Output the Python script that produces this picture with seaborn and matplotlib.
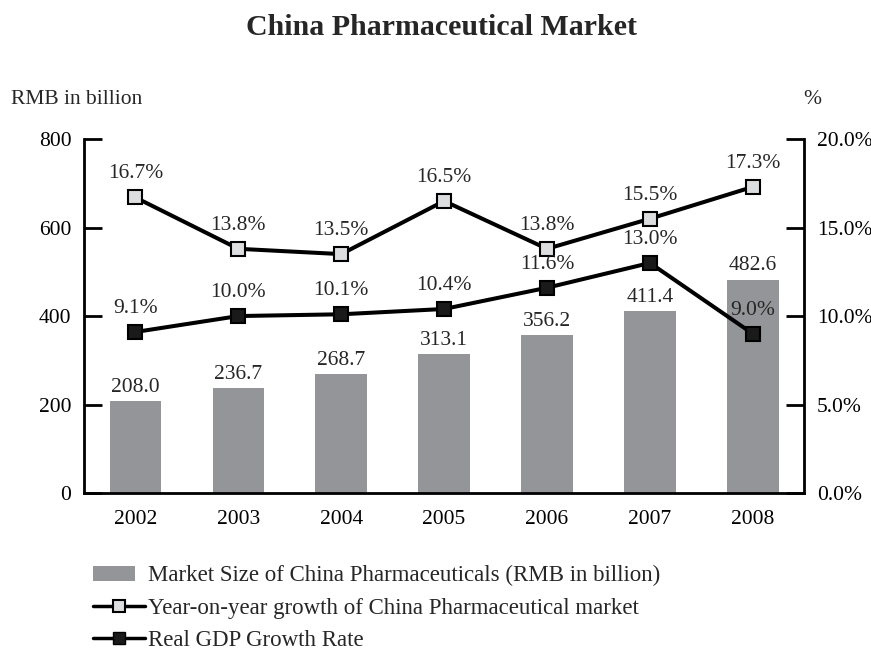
import numpy as np
import pandas as pd
import matplotlib
matplotlib.use("Agg")
import matplotlib.pyplot as plt
import seaborn as sns
from matplotlib.lines import Line2D
from matplotlib.patches import Patch, Rectangle
from matplotlib.legend_handler import HandlerPatch

years = ["2002", "2003", "2004", "2005", "2006", "2007", "2008"]
market_size = [208.0, 236.7, 268.7, 313.1, 356.2, 411.4, 482.6]
yoy_growth = [16.7, 13.8, 13.5, 16.5, 13.8, 15.5, 17.3]
gdp_growth = [9.1, 10.0, 10.1, 10.4, 11.6, 13.0, 9.0]

left_ticks = [0, 200, 400, 600, 800]
right_ticks = [0, 5, 10, 15, 20]

sns.set_theme(style="white")
plt.rcParams["font.family"] = ["Liberation Serif", "DejaVu Serif"]

BAR_COLOR = "#939598"
LIGHT_FILL = "#dcdddf"
DARK_FILL = "#1a1a1a"
FS = 15.5

df = pd.DataFrame({"year": years, "market": market_size,
                   "yoy": yoy_growth, "gdp": gdp_growth})
df["pos"] = np.arange(len(years))

fig = plt.figure(figsize=(8.71, 6.53), dpi=100)
ax = fig.add_axes([0.0964, 0.245, 0.827, 0.542])

sns.barplot(data=df, x="year", y="market", color=BAR_COLOR, width=0.5,
            saturation=1, ax=ax, edgecolor="none")
ax.set_xlim(-0.5, len(years) - 0.5)
ax.set_ylim(0, 800)
ax.set_yticks(left_ticks)
ax.set_xlabel("")
ax.set_ylabel("")

ax2 = ax.twinx()
line_kw = dict(color="black", lw=2.9, marker="s", markersize=9.5,
               markeredgecolor="black", markeredgewidth=1.5, ax=ax2)
sns.lineplot(data=df, x="pos", y="yoy", markerfacecolor=LIGHT_FILL, **line_kw)
sns.lineplot(data=df, x="pos", y="gdp", markerfacecolor=DARK_FILL, **line_kw)
ax2.set_ylim(0, 20)
ax2.set_yticks(right_ticks)
ax2.set_yticklabels([f"{t:.1f}%" for t in right_ticks])
ax2.set_xlabel("")
ax2.set_ylabel("")
ax2.set_xlim(-0.5, len(years) - 0.5)

# spines and ticks
for a in (ax, ax2):
    a.spines["top"].set_visible(False)
    for s in ("left", "right", "bottom"):
        a.spines[s].set_linewidth(2)
        a.spines[s].set_color("black")
ax.spines["right"].set_visible(False)
ax2.spines["left"].set_visible(False)
ax2.spines["bottom"].set_visible(False)

ax.tick_params(axis="y", direction="in", length=13, width=2, colors="black",
               labelsize=FS, pad=9, left=True)
ax.tick_params(axis="x", length=0, labelsize=FS, pad=12, colors="black")
ax2.tick_params(axis="y", direction="in", length=13, width=2, colors="black",
                labelsize=FS, pad=9, right=True)

# value labels
for i, v in enumerate(market_size):
    ax.text(i, v + 10, f"{v:.1f}", ha="center", va="bottom", fontsize=FS)
for i, v in enumerate(yoy_growth):
    ax2.text(i, v + 0.8, f"{v:.1f}%", ha="center", va="bottom", fontsize=FS)
for i, v in enumerate(gdp_growth):
    ax2.text(i, v + 0.8, f"{v:.1f}%", ha="center", va="bottom", fontsize=FS)

fig.text(0.507, 0.958, "China Pharmaceutical Market", ha="center", va="center",
         fontsize=21.5, fontweight="bold")
fig.text(0.013, 0.848, "RMB in billion", ha="left", va="center", fontsize=FS)
fig.text(0.922, 0.848, "%", ha="left", va="center", fontsize=FS)


def short_patch(legend, orig_handle, xdescent, ydescent, width, height, fontsize):
    return Rectangle((-xdescent, -ydescent + height * 0.05), width * 0.8,
                     height * 0.9)


handles = [
    Patch(facecolor=BAR_COLOR, edgecolor="none"),
    Line2D([], [], color="black", lw=2.5, marker="s", markersize=9,
           markerfacecolor=LIGHT_FILL, markeredgecolor="black", markeredgewidth=1.5),
    Line2D([], [], color="black", lw=2.5, marker="s", markersize=9,
           markerfacecolor=DARK_FILL, markeredgecolor="black"),
]
labels = [
    "Market Size of China Pharmaceuticals (RMB in billion)",
    "Year-on-year growth of China Pharmaceutical market",
    "Real GDP Growth Rate",
]
fig.legend(handles, labels, loc="upper left", bbox_to_anchor=(0.1068, 0.1345),
           frameon=False, fontsize=16.5, handlelength=2.27, handletextpad=0.13,
           labelspacing=0.5, borderaxespad=0, borderpad=0,
           handler_map={Patch: HandlerPatch(patch_func=short_patch)})

fig.savefig("out.png", dpi=100, facecolor="white")
